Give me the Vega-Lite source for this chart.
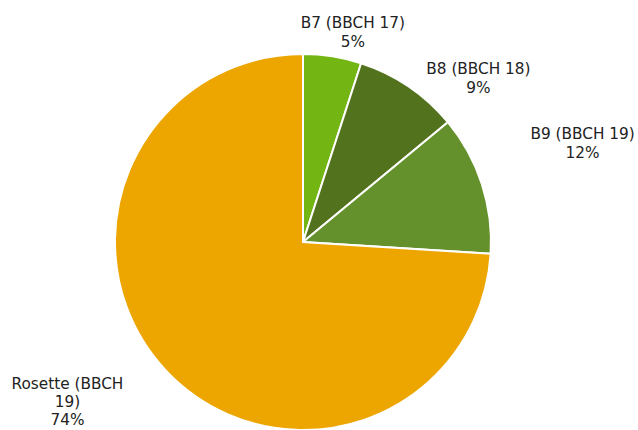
{
  "$schema": "https://vega.github.io/schema/vega-lite/v6.json",
  "autosize": "none",
  "width": 606,
  "height": 376,
  "padding": {"left": 0, "top": 54, "right": 32, "bottom": 0},
  "background": "white",
  "config": {"view": {"stroke": null}},
  "data": {"values": [
    {"stage": "B7 (BBCH 17)", "pct": 5, "label": "B7 (BBCH 17)\n5%", "order": 1},
    {"stage": "B8 (BBCH 18)", "pct": 9, "label": "B8 (BBCH 18)\n9%", "order": 2},
    {"stage": "B9 (BBCH 19)", "pct": 12, "label": "B9 (BBCH 19)\n12%", "order": 3},
    {"stage": "Rosette (BBCH 19)", "pct": 74, "label": "Rosette (BBCH\n19)\n74%", "order": 4}
  ]},
  "encoding": {
    "theta": {"field": "pct", "type": "quantitative", "stack": true},
    "order": {"field": "order", "type": "quantitative"},
    "detail": {"field": "stage", "type": "nominal"}
  },
  "layer": [
    {
      "mark": {"type": "arc", "outerRadius": 188, "stroke": "white", "strokeWidth": 2},
      "encoding": {
        "color": {
          "field": "stage", "type": "nominal", "legend": null,
          "scale": {
            "domain": ["B7 (BBCH 17)", "B8 (BBCH 18)", "B9 (BBCH 19)", "Rosette (BBCH 19)"],
            "range": ["#73b512", "#53721d", "#64912b", "#eda600"]
          }
        }
      }
    },
    {
      "mark": {"type": "text", "radius": 210, "dx": 17, "dy": -12, "font": "DejaVu Sans", "fontSize": 15.3, "lineBreak": "\n", "lineHeight": 19, "fill": "#222222", "align": "center", "baseline": "middle"},
      "encoding": {"text": {"condition": {"test": "datum.stage === 'B7 (BBCH 17)'", "field": "label"}, "value": ""}}
    },
    {
      "mark": {"type": "text", "radius": 200, "dx": 63, "dy": -8, "font": "DejaVu Sans", "fontSize": 15.3, "lineBreak": "\n", "lineHeight": 19, "fill": "#222222", "align": "center", "baseline": "middle"},
      "encoding": {"text": {"condition": {"test": "datum.stage === 'B8 (BBCH 18)'", "field": "label"}, "value": ""}}
    },
    {
      "mark": {"type": "text", "radius": 294, "dx": 0, "dy": -17, "font": "DejaVu Sans", "fontSize": 15.3, "lineBreak": "\n", "lineHeight": 19, "fill": "#222222", "align": "center", "baseline": "middle"},
      "encoding": {"text": {"condition": {"test": "datum.stage === 'B9 (BBCH 19)'", "field": "label"}, "value": ""}}
    },
    {
      "mark": {"type": "text", "radius": 234, "dx": -65, "dy": -18, "font": "DejaVu Sans", "fontSize": 15.3, "lineBreak": "\n", "lineHeight": 18, "fill": "#222222", "align": "center", "baseline": "middle"},
      "encoding": {"text": {"condition": {"test": "datum.stage === 'Rosette (BBCH 19)'", "field": "label"}, "value": ""}}
    }
  ]
}
